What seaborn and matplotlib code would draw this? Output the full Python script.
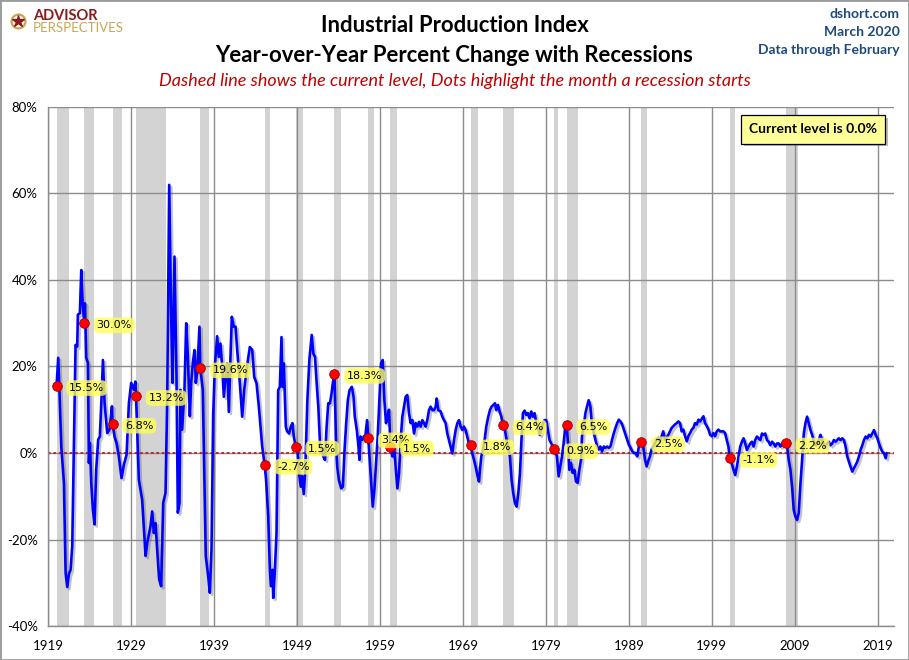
import matplotlib
matplotlib.use("Agg")
import matplotlib.pyplot as plt
import matplotlib.patheffects as pe
from matplotlib.lines import Line2D
from matplotlib.patches import Rectangle
import seaborn as sns
import pandas as pd

# Industrial production, year-over-year % change (decimal years)
ip_year = [
    1920.00, 1920.20, 1920.37, 1920.57, 1920.89, 1921.09, 1921.29, 1921.49, 1921.69, 1921.89,
    1922.09, 1922.29, 1922.49, 1922.57, 1922.81, 1922.98, 1923.14, 1923.33, 1923.42, 1923.58,
    1923.78, 1923.90, 1924.02, 1924.18, 1924.38, 1924.58, 1924.78, 1925.02, 1925.22, 1925.43,
    1925.59, 1925.79, 1926.11, 1926.39, 1926.68, 1926.75, 1926.99, 1927.23, 1927.51, 1927.83,
    1928.12, 1928.44, 1928.72, 1929.00, 1929.32, 1929.50, 1929.58, 1929.92, 1930.32, 1930.73,
    1930.93, 1931.33, 1931.53, 1931.73, 1931.93, 1932.13, 1932.37, 1932.61, 1932.86, 1933.14,
    1933.34, 1933.58, 1933.82, 1933.98, 1934.22, 1934.46, 1934.62, 1934.82, 1934.94, 1935.14,
    1935.42, 1935.63, 1935.83, 1936.07, 1936.23, 1936.43, 1936.63, 1936.79, 1936.95, 1937.11,
    1937.23, 1937.33, 1937.63, 1937.83, 1937.99, 1938.28, 1938.48, 1938.68, 1938.88, 1939.08,
    1939.36, 1939.56, 1939.76, 1939.97, 1940.17, 1940.37, 1940.57, 1940.77, 1940.97, 1941.13,
    1941.37, 1941.58, 1941.78, 1942.10, 1942.38, 1942.62, 1942.90, 1943.30, 1943.59, 1943.83,
    1944.11, 1944.39, 1944.59, 1944.79, 1945.08, 1945.26, 1945.52, 1945.72, 1945.84, 1946.04,
    1946.12, 1946.32, 1946.52, 1946.72, 1946.92, 1947.12, 1947.24, 1947.40, 1947.64, 1947.80,
    1948.04, 1948.24, 1948.44, 1948.60, 1948.83, 1949.04, 1949.28, 1949.44, 1949.60, 1949.80,
    1950.00, 1950.24, 1950.48, 1950.76, 1950.96, 1951.16, 1951.36, 1951.56, 1951.76, 1952.00,
    1952.16, 1952.36, 1952.56, 1952.76, 1952.96, 1953.16, 1953.30, 1953.50, 1953.58, 1953.72,
    1953.84, 1954.04, 1954.32, 1954.52, 1954.72, 1954.92, 1955.12, 1955.32, 1955.60, 1955.80,
    1955.96, 1956.20, 1956.40, 1956.52, 1956.64, 1956.84, 1957.04, 1957.24, 1957.44, 1957.58,
    1957.72, 1957.92, 1958.12, 1958.32, 1958.52, 1958.72, 1958.92, 1959.12, 1959.32, 1959.52,
    1959.72, 1959.88, 1960.08, 1960.25, 1960.49, 1960.69, 1960.89, 1961.09, 1961.29, 1961.49,
    1961.69, 1961.89, 1962.09, 1962.29, 1962.49, 1962.69, 1962.90, 1963.10, 1963.30, 1963.50,
    1963.70, 1963.90, 1964.10, 1964.30, 1964.50, 1964.70, 1964.90, 1965.10, 1965.31, 1965.51,
    1965.71, 1965.83, 1966.03, 1966.31, 1966.51, 1966.71, 1966.91, 1967.11, 1967.31, 1967.51,
    1967.71, 1967.92, 1968.12, 1968.32, 1968.52, 1968.72, 1968.92, 1969.12, 1969.32, 1969.52,
    1969.72, 1969.92, 1970.12, 1970.33, 1970.53, 1970.73, 1970.93, 1971.05, 1971.21, 1971.41,
    1971.61, 1971.81, 1972.05, 1972.25, 1972.45, 1972.65, 1972.86, 1973.02, 1973.22, 1973.42,
    1973.62, 1973.83, 1974.06, 1974.26, 1974.46, 1974.66, 1974.86, 1975.06, 1975.27, 1975.47,
    1975.67, 1975.87, 1976.07, 1976.23, 1976.43, 1976.63, 1976.83, 1977.03, 1977.23, 1977.43,
    1977.63, 1977.84, 1978.04, 1978.24, 1978.44, 1978.64, 1978.84, 1979.04, 1979.24, 1979.44,
    1979.64, 1980.00, 1980.33, 1980.53, 1980.73, 1980.94, 1981.14, 1981.34, 1981.50, 1981.66,
    1981.82, 1982.02, 1982.23, 1982.43, 1982.63, 1982.83, 1983.03, 1983.23, 1983.35, 1983.56,
    1983.76, 1983.96, 1984.16, 1984.36, 1984.56, 1984.77, 1984.97, 1985.17, 1985.37, 1985.57,
    1985.77, 1985.98, 1986.18, 1986.38, 1986.58, 1986.78, 1986.98, 1987.19, 1987.39, 1987.59,
    1987.79, 1987.99, 1988.19, 1988.40, 1988.60, 1988.80, 1989.00, 1989.20, 1989.40, 1989.60,
    1989.81, 1990.01, 1990.21, 1990.41, 1990.50, 1990.73, 1990.94, 1991.14, 1991.34, 1991.54,
    1991.74, 1991.94, 1992.15, 1992.35, 1992.55, 1992.75, 1992.95, 1993.15, 1993.35, 1993.56,
    1993.76, 1993.96, 1994.16, 1994.36, 1994.56, 1994.77, 1994.97, 1995.17, 1995.37, 1995.57,
    1995.77, 1995.98, 1996.18, 1996.38, 1996.58, 1996.78, 1996.98, 1997.19, 1997.39, 1997.59,
    1997.79, 1997.99, 1998.19, 1998.40, 1998.60, 1998.80, 1999.00, 1999.20, 1999.40, 1999.60,
    1999.80, 2000.00, 2000.20, 2000.40, 2000.60, 2000.80, 2001.00, 2001.17, 2001.38, 2001.62,
    2001.82, 2002.02, 2002.23, 2002.43, 2002.63, 2002.83, 2003.03, 2003.23, 2003.44, 2003.64,
    2003.84, 2004.04, 2004.24, 2004.44, 2004.65, 2004.85, 2005.05, 2005.25, 2005.45, 2005.65,
    2005.85, 2006.06, 2006.26, 2006.46, 2006.66, 2006.86, 2007.06, 2007.27, 2007.47, 2007.67,
    2007.92, 2008.07, 2008.27, 2008.48, 2008.68, 2008.88, 2009.08, 2009.28, 2009.48, 2009.69,
    2009.89, 2010.09, 2010.29, 2010.49, 2010.69, 2010.90, 2011.10, 2011.30, 2011.50, 2011.70,
    2011.90, 2012.10, 2012.31, 2012.51, 2012.71, 2012.91, 2013.11, 2013.31, 2013.52, 2013.72,
    2013.92, 2014.12, 2014.32, 2014.52, 2014.73, 2014.93, 2015.13, 2015.33, 2015.53, 2015.73,
    2015.94, 2016.14, 2016.34, 2016.54, 2016.74, 2016.94, 2017.15, 2017.35, 2017.55, 2017.75,
    2017.95, 2018.15, 2018.35, 2018.56, 2018.76, 2018.96, 2019.16, 2019.36, 2019.56, 2019.77,
    2019.97, 2020.08,
]
ip_yoy = [
    15.5, 22.0, 13.0, 1.5, -7.0, -27.7, -31.0, -28.0, -27.0, -21.5,
    2.3, 25.0, 24.6, 32.0, 32.3, 42.3, 35.0, 30.0, 34.6, 22.0,
    20.8, -2.3, 2.3, -6.9, -13.1, -16.5, -3.8, 3.1, 3.8, 13.1,
    21.5, 11.5, 4.6, 5.4, 10.8, 6.8, 3.8, 2.3, -0.8, -5.8,
    -2.7, -0.4, 11.5, 16.2, 14.6, 16.5, 13.2, -6.2, -10.8, -23.8,
    -20.8, -16.9, -13.5, -18.5, -16.2, -22.3, -29.2, -30.8, -11.5, -9.2,
    12.3, 62.0, 31.5, 16.2, 45.4, 17.7, -13.8, -11.5, 14.6, 5.4,
    14.6, 30.0, 22.3, 8.5, 16.2, 20.8, 23.8, 16.2, 18.5, 24.6,
    29.2, 19.6, 14.6, -6.9, -23.8, -28.5, -32.3, -22.3, 8.5, 19.9,
    27.0, 22.2, 25.3, 19.9, 13.0, 17.6, 20.7, 9.5, 22.2, 31.5,
    29.2, 29.2, 23.8, 16.1, 8.4, 14.5, 19.2, 24.5, 23.8, 17.6,
    16.1, 10.7, 6.1, 1.5, -2.7, -6.1, -14.7, -27.0, -30.8, -27.0,
    -33.5, -27.0, -18.5, 14.5, 15.3, 26.8, 15.3, 20.7, 6.1, 5.0,
    4.5, 6.1, 6.9, 3.8, 1.5, 0.7, -5.3, -7.8, -5.3, -9.5,
    -3.1, 12.3, 21.5, 27.3, 23.0, 22.2, 16.1, 10.7, 2.2, 0.7,
    -0.8, -1.6, 6.1, 11.5, 11.5, 13.8, 16.1, 18.3, 12.2, 0.7,
    -3.2, -6.3, -8.2, -7.8, 0.7, 6.9, 12.2, 14.5, 15.3, 13.1,
    8.4, 5.3, 1.5, -1.6, 3.8, 3.0, 3.8, 4.1, 7.6, 3.4,
    -0.8, -6.9, -12.4, -8.5, -2.3, 3.8, 12.3, 20.7, 21.5, 12.3,
    6.9, 8.4, 10.0, 1.5, -0.8, 1.5, -3.2, -8.2, -4.7, 3.0,
    8.4, 10.7, 13.0, 13.4, 9.2, 6.9, 7.6, 4.5, 6.9, 6.1,
    7.2, 6.1, 7.6, 6.9, 6.1, 7.6, 9.9, 10.7, 9.9, 9.9,
    10.7, 12.6, 9.9, 9.6, 8.4, 7.6, 6.9, 4.5, 3.0, 1.5,
    -0.1, 3.0, 5.3, 6.9, 7.6, 6.1, 5.3, 6.1, 5.3, 3.8,
    2.2, 1.8, -0.1, -1.6, -3.2, -5.1, -6.6, -3.9, -0.8, 0.7,
    3.0, 6.1, 8.4, 9.9, 10.7, 11.1, 11.5, 9.9, 11.1, 9.6,
    8.4, 6.4, 5.3, 3.0, 0.7, -0.8, -6.2, -9.3, -11.6, -12.4,
    -9.3, -4.7, 3.8, 9.2, 9.8, 8.8, 9.2, 8.0, 9.6, 8.4,
    9.2, 6.9, 6.1, 4.2, 5.3, 6.9, 7.6, 7.6, 5.3, 3.0,
    2.2, 0.9, -0.8, -5.4, -3.1, -0.8, 2.3, 6.2, 6.5, 2.3,
    -3.9, -2.3, -4.6, -3.9, -6.6, -6.9, -3.9, -1.5, 3.9, 6.2,
    9.2, 10.8, 12.2, 10.8, 6.2, 4.6, 3.1, 1.5, 0.8, 1.5,
    0.4, 1.5, 1.2, 1.5, 1.2, 1.5, 3.1, 4.6, 5.8, 6.9,
    7.7, 7.3, 6.6, 5.4, 4.2, 3.1, 1.9, 1.2, 0.4, 0.0,
    0.0, -0.8, 1.5, 2.3, 2.5, 1.5, -1.5, -3.1, -1.9, -0.8,
    0.8, 1.5, 2.3, 3.1, 3.5, 2.7, 3.9, 5.0, 3.1, 3.5,
    4.2, 5.0, 5.8, 6.2, 6.6, 6.9, 7.3, 6.9, 5.0, 5.4,
    3.9, 2.7, 3.9, 4.6, 5.4, 5.8, 6.9, 6.6, 7.7, 7.3,
    7.9, 8.5, 6.9, 6.2, 5.4, 4.2, 3.9, 4.6, 3.9, 5.0,
    5.4, 5.0, 5.0, 5.0, 4.6, 3.1, 1.5, -1.1, -2.3, -3.9,
    -5.1, -3.2, -0.8, 1.5, 2.6, 3.4, 2.2, 0.7, 1.5, 2.2,
    2.6, 1.5, 3.0, 3.8, 3.4, 3.0, 4.5, 4.2, 4.5, 3.0,
    2.6, 1.8, 2.6, 2.2, 1.5, 2.2, 2.2, 1.5, 2.2, 2.6,
    2.2, 1.8, -1.6, -3.9, -7.8, -13.2, -14.7, -15.5, -13.9, -7.0,
    -1.6, 4.5, 6.9, 8.4, 6.9, 5.3, 4.2, 2.6, 1.8, 2.2,
    3.0, 4.2, 3.0, 1.8, 1.5, 2.2, 2.6, 1.8, 2.2, 3.0,
    2.6, 3.0, 3.4, 3.0, 3.4, 3.0, 1.5, -0.8, -2.0, -3.2,
    -4.3, -3.5, -2.8, -2.0, -0.8, 0.7, 1.8, 3.0, 3.8, 3.4,
    4.2, 3.8, 4.5, 5.3, 4.2, 3.4, 2.2, 1.1, 0.3, -0.1,
    -1.2, 0.0,
]

# NBER recessions (peak month -> trough month) and the YoY reading when each began
rec_start = [1920.00, 1923.33, 1926.75, 1929.58, 1937.33, 1945.08, 1948.83, 1953.50, 1957.58,
             1960.25, 1969.92, 1973.83, 1980.00, 1981.50, 1990.50, 2001.17, 2007.92]
rec_end = [1921.50, 1924.50, 1927.83, 1933.17, 1938.42, 1945.75, 1949.75, 1954.33, 1958.25,
           1961.08, 1970.83, 1975.17, 1980.50, 1982.83, 1991.17, 2001.83, 2009.42]
rec_level = [15.5, 30.0, 6.8, 13.2, 19.6, -2.7, 1.5, 18.3, 3.4,
             1.5, 1.8, 6.4, 0.9, 6.5, 2.5, -1.1, 2.2]

year_ticks = list(range(1919, 2020, 10))
pct_ticks = [-40, -20, 0, 20, 40, 60, 80]

df = pd.DataFrame({"year": ip_year, "yoy": ip_yoy})
dots = pd.DataFrame({"year": rec_start, "yoy": rec_level})
current = ip_yoy[-1]

sns.set_theme(style="white")
plt.rcParams["font.family"] = ["Lato", "DejaVu Sans"]

fig = plt.figure(figsize=(9.09, 6.6), dpi=100)
ax = fig.add_axes([0.0531, 0.0515, 0.9307, 0.7864])

# recession bands
for s, e in zip(rec_start, rec_end):
    ax.axvspan(s, e, color="#D3D3D3", lw=0, zorder=0.2)

sns.lineplot(data=df, x="year", y="yoy", ax=ax, color="#0000FF", lw=1.9,
             sort=False, estimator=None, zorder=3,
             path_effects=[pe.SimpleLineShadow(offset=(1.5, -1.5), shadow_color="#555555", alpha=0.35),
                           pe.Normal()])
ax.axhline(current, color="#B22222", lw=1.3, ls=(0, (1.5, 1.5)), zorder=2.5)

sns.scatterplot(data=dots, x="year", y="yoy", ax=ax, color="#FF0000", s=48,
                edgecolor="#A00000", linewidth=0.6, zorder=5, legend=False)
for x, v in zip(rec_start, rec_level):
    ax.annotate(f"{v:.1f}%", (x, v), xytext=(9, -1.5), textcoords="offset points",
                ha="left", va="center", fontsize=8, family=["DejaVu Sans"], color="black",
                zorder=6,
                bbox=dict(boxstyle="round,pad=0.25,rounding_size=0.5", fc="#FFFF55",
                          ec="none", alpha=0.8))

ax.set_xlim(1919, 2021)
ax.set_ylim(-40, 80)
ax.set_xticks(year_ticks)
ax.set_xticklabels([str(y) for y in year_ticks])
ax.set_yticks(pct_ticks)
ax.set_yticklabels([f"{p}%" for p in pct_ticks])
ax.set_xlabel("")
ax.set_ylabel("")
ax.set_axisbelow(True)
ax.grid(True, color="#8C8C8C", lw=1.0)
ax.set_facecolor("white")
for side in ["top", "right"]:
    ax.spines[side].set_visible(False)
for side in ["left", "bottom"]:
    ax.spines[side].set_color("#8C8C8C")
    ax.spines[side].set_linewidth(1.0)
ax.tick_params(axis="y", length=3.6, width=1.0, color="#8C8C8C", pad=4, labelsize=9.5, labelcolor="black")
ax.tick_params(axis="x", length=0, pad=10, labelsize=9.5, labelcolor="black")

box = ax.text(0.904, 0.957, f"Current level is {current:.1f}%", transform=ax.transAxes,
              ha="center", va="center", fontsize=10, fontweight="bold", color="black", zorder=7,
              bbox=dict(boxstyle="square,pad=0.6", fc="#FFFF99", ec="black", lw=0.9))
box.get_bbox_patch().set_path_effects([pe.withSimplePatchShadow(offset=(2, -2), shadow_rgbFace="#777777", alpha=0.5)])

# header
fig.text(0.5, 1 - 25.5 / 660, "Industrial Production Index", ha="center", va="center",
         fontsize=15.9, fontweight="bold", color="black")
fig.text(0.5, 1 - 55 / 660, "Year-over-Year Percent Change with Recessions", ha="center", va="center",
         fontsize=15.9, fontweight="bold", color="black")
fig.text(0.5, 1 - 81 / 660, "Dashed line shows the current level, Dots highlight the month a recession starts",
         ha="center", va="center", fontsize=13, style="italic", color="#C00000")
for txt, yy in zip(["dshort.com", "March 2020", "Data through February"], [14, 32, 50]):
    fig.text(0.990, 1 - yy / 660, txt, ha="right", va="center", fontsize=10, fontweight="bold",
             color="#1F497D")

# logo
fig.add_artist(Line2D([18 / 909], [1 - 21 / 660], transform=fig.transFigure, marker="o", ms=10,
                      mfc="none", mec="#C9A652", mew=1.6))
fig.add_artist(Line2D([18 / 909], [1 - 21 / 660], transform=fig.transFigure, marker="*", ms=9,
                      color="#8B1A1A", mec="#8B1A1A"))
fig.text(33 / 909, 1 - 16 / 660, "ADVISOR", ha="left", va="center", fontsize=10.5,
         fontweight="bold", color="#8B1A1A")
fig.text(33 / 909, 1 - 27.5 / 660, "PERSPECTIVES", ha="left", va="center", fontsize=9.5,
         color="#C9A652")

fig.patches.append(Rectangle((0, 0), 1, 1, transform=fig.transFigure, fill=False,
                             ec="#9A9A9A", lw=2))

fig.savefig("out.png", dpi=100, facecolor="white")
